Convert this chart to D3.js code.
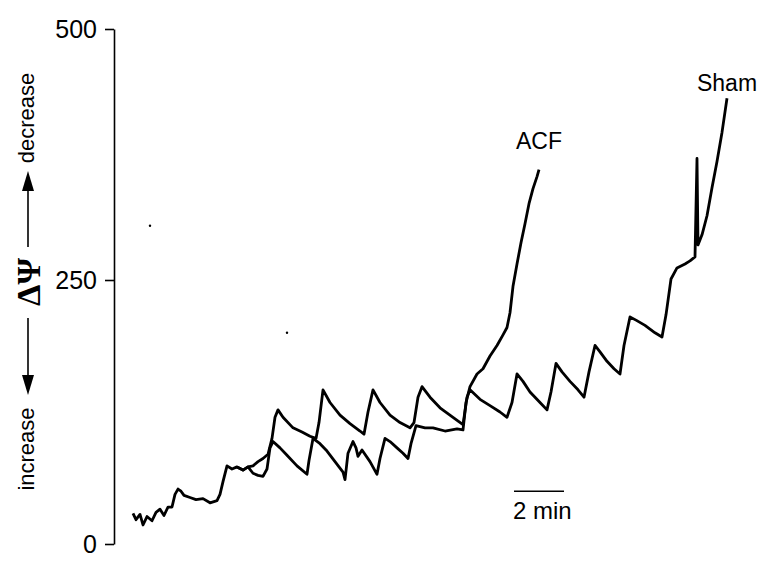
<!DOCTYPE html>
<html>
<head>
<meta charset="utf-8">
<script src="https://cdn.jsdelivr.net/npm/d3@7"></script>
<style>
  body { margin: 0; background: #fff; }
  svg { display: block; }
  text { font-family: "Liberation Sans", Arial, sans-serif; fill: #000; }
</style>
</head>
<body>
<div id="chart"></div>
<script>
// time in minutes, delta psi in arbitrary units
const sharedTime = [0, 0.12, 0.28, 0.4, 0.56, 0.76, 0.92, 1.08, 1.24, 1.4, 1.56, 1.68, 1.8, 1.92, 2.04, 2.28, 2.52, 2.8, 3.08, 3.36, 3.48, 3.6, 3.76, 3.96, 4.16, 4.4, 4.6]
const sharedPsi = [29, 23, 28, 18, 26, 22, 30, 33, 27, 35, 35, 47, 52, 50, 46, 44, 42, 43, 39, 41, 47, 59, 74, 71, 73, 70, 73]

const shamTime = [4.8, 5.0, 5.2, 5.4, 5.56, 5.68, 5.8, 6.0, 6.4, 6.76, 7.08, 7.32, 7.44, 7.6, 7.88, 8.28, 8.68, 9.08, 9.24, 9.4, 9.6, 9.88, 10.28, 10.68, 11.08, 11.24, 11.4, 11.56, 11.88, 12.28, 12.8, 13.2, 13.36, 13.48, 13.88, 14.28, 14.68, 14.96, 15.16, 15.36, 15.6, 15.88, 16.28, 16.56, 16.72, 16.92, 17.16, 17.48, 17.8, 18.04, 18.24, 18.48, 18.68, 18.96, 19.24, 19.48, 19.64, 19.88, 20.12, 20.48, 20.88, 21.16, 21.32, 21.52, 21.76, 22.08, 22.28, 22.48, 22.56, 22.6, 22.76, 22.96, 23.16, 23.36, 23.56, 23.76]
const shamPsi = [74, 78, 81, 85, 100, 120, 127, 120, 110, 106, 102, 100, 115, 146, 134, 122, 114, 107, 104, 125, 146, 134, 122, 115, 110, 115, 139, 149, 139, 129, 120, 113, 139, 146, 137, 131, 125, 120, 134, 161, 154, 144, 134, 127, 144, 171, 163, 154, 146, 139, 163, 188, 182, 173, 166, 161, 188, 215, 212, 207, 200, 196, 217, 251, 262, 266, 269, 273, 371, 285, 295, 314, 342, 368, 397, 431]

const acfTime = [4.8, 5.0, 5.2, 5.36, 5.48, 5.6, 5.88, 6.16, 6.56, 6.96, 7.04, 7.2, 7.48, 7.76, 8.08, 8.4, 8.48, 8.6, 8.8, 8.92, 9.0, 9.16, 9.48, 9.76, 9.88, 10.08, 10.28, 10.56, 10.8, 11.0, 11.12, 11.32, 11.68, 12.0, 12.48, 12.96, 13.2, 13.32, 13.48, 13.76, 14.0, 14.28, 14.56, 14.8, 14.96, 15.08, 15.2, 15.36, 15.52, 15.68, 15.84, 16.0, 16.16, 16.24]
const acfPsi = [67, 65, 64, 71, 91, 97, 91, 84, 74, 66, 79, 100, 95, 88, 78, 68, 61, 86, 97, 91, 83, 89, 78, 66, 81, 100, 97, 91, 86, 81, 95, 112, 110, 110, 107, 109, 108, 134, 149, 161, 166, 178, 188, 198, 205, 219, 244, 266, 287, 306, 326, 341, 353, 360]

// two stray specks on the scanned figure
const speckTime = [0.68, 6.16]
const speckPsi = [304, 200]

const yTicks = [0, 250, 500]
const scaleBarStart = 15.24
const scaleBarMinutes = 2

const drawTraces = () => {

    const width = 765
    const height = 561

    const svg = d3.select('#chart')
        .append('svg')
        .attr('width', width)
        .attr('height', height)

    const xScale = d3.scaleLinear()
        .domain([0, 24])
        .range([133, 733])

    // the scanned axis is slightly uneven, so map each tick where it sits
    const yScale = d3.scaleLinear()
        .domain(yTicks)
        .range([544, 280, 29])

    // y axis with ticks pointing left
    const yAxis = svg.append('g')
        .attr('transform', 'translate(114, 0)')
        .call(d3.axisLeft(yScale)
            .tickValues(yTicks)
            .tickSize(9)
            .tickSizeOuter(0)
            .tickPadding(8))

    yAxis.select('.domain').attr('stroke', '#000').attr('stroke-width', 1.6)
    yAxis.selectAll('.tick line').attr('stroke', '#000').attr('stroke-width', 1.6)
    yAxis.selectAll('.tick text')
        .attr('font-size', '25px')
        .attr('font-family', '"Liberation Sans", Arial, sans-serif')
        .attr('fill', '#000')

    // rotated axis label: increase <-- dPsi --> decrease
    const label = svg.append('g')
        .attr('transform', 'translate(26, 282) rotate(-90)')

    label.append('text')
        .attr('x', -167)
        .attr('dominant-baseline', 'central')
        .attr('text-anchor', 'middle')
        .attr('font-size', '22px')
        .text('increase')

    label.append('text')
        .attr('x', 164)
        .attr('dominant-baseline', 'central')
        .attr('text-anchor', 'middle')
        .attr('font-size', '22px')
        .text('decrease')

    label.append('text')
        .attr('x', 0)
        .attr('y', 2)
        .attr('dominant-baseline', 'central')
        .attr('text-anchor', 'middle')
        .attr('font-size', '34px')
        .attr('font-weight', 'bold')
        .style('font-family', '"Liberation Serif", "Times New Roman", serif')
        .text('ΔΨ')

    const arrows = [
        { from: -36, to: -113 },
        { from: 35, to: 111 }
    ]

    arrows.forEach(a => {
        const dir = Math.sign(a.to - a.from)
        const headStart = a.to - dir * 20
        label.append('line')
            .attr('x1', a.from)
            .attr('x2', headStart)
            .attr('y1', 2)
            .attr('y2', 2)
            .attr('stroke', '#000')
            .attr('stroke-width', 1.6)
        label.append('path')
            .attr('d', `M${a.to},2 L${headStart},-4 L${headStart},8 Z`)
            .attr('fill', '#000')
    })

    // traces
    const line = d3.line()
        .x(d => xScale(d[0]))
        .y(d => yScale(d[1]))

    const shared = d3.zip(sharedTime, sharedPsi)
    const sham = shared.concat(d3.zip(shamTime, shamPsi))
    const acf = shared.slice(-3).concat(d3.zip(acfTime, acfPsi))

    svg.selectAll('.trace')
        .data([acf, sham])
        .enter()
        .append('path')
            .attr('class', 'trace')
            .attr('d', line)
            .attr('fill', 'none')
            .attr('stroke', '#000')
            .attr('stroke-width', 2.8)
            .attr('stroke-linejoin', 'round')

    svg.selectAll('.speck')
        .data(d3.zip(speckTime, speckPsi))
        .enter()
        .append('circle')
            .attr('class', 'speck')
            .attr('cx', d => xScale(d[0]))
            .attr('cy', d => yScale(d[1]))
            .attr('r', 1.2)
            .attr('fill', '#000')

    // trace labels sit above the end of each trace
    const acfEnd = acf[acf.length - 1]
    const shamEnd = sham[sham.length - 1]

    svg.append('text')
        .attr('x', xScale(acfEnd[0]))
        .attr('y', yScale(acfEnd[1]) - 21)
        .attr('text-anchor', 'middle')
        .attr('font-size', '23px')
        .text('ACF')

    svg.append('text')
        .attr('x', xScale(shamEnd[0]))
        .attr('y', yScale(shamEnd[1]) - 7)
        .attr('text-anchor', 'middle')
        .attr('font-size', '23px')
        .text('Sham')

    // 2 min scale bar
    svg.append('line')
        .attr('x1', xScale(scaleBarStart))
        .attr('x2', xScale(scaleBarStart + scaleBarMinutes))
        .attr('y1', yScale(50))
        .attr('y2', yScale(50))
        .attr('stroke', '#000')
        .attr('stroke-width', 1.6)

    svg.append('text')
        .attr('x', xScale(scaleBarStart) - 1)
        .attr('y', yScale(50) + 28)
        .attr('font-size', '24px')
        .text(scaleBarMinutes + ' min')
}

drawTraces()
</script>
</body>
</html>
